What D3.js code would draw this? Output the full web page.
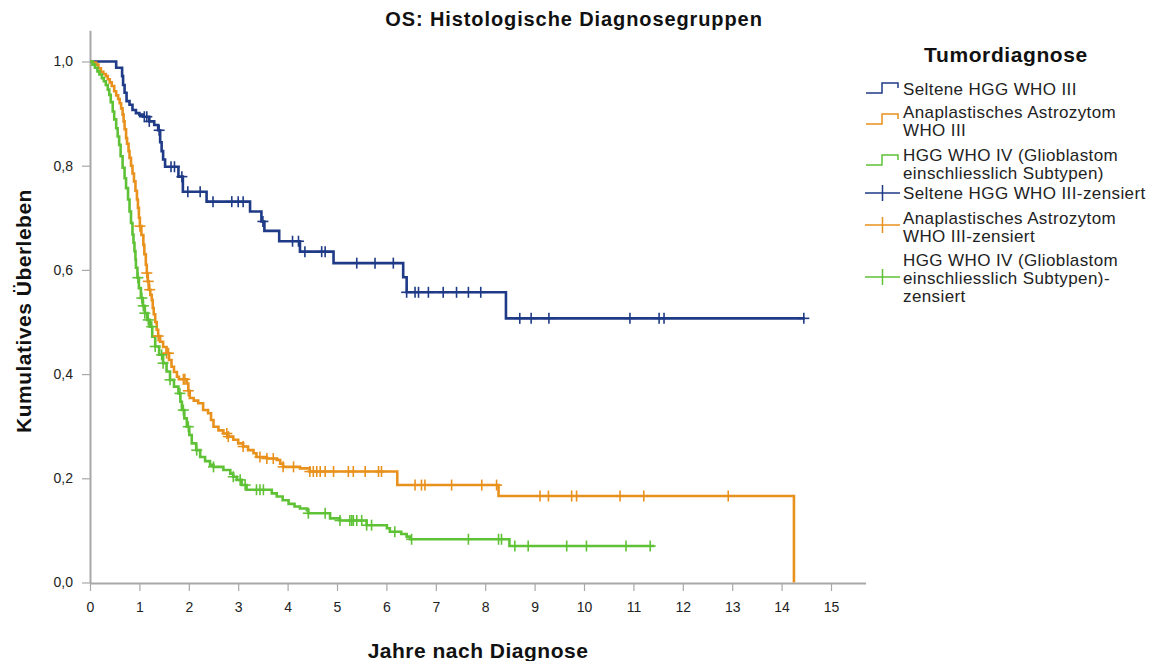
<!DOCTYPE html>
<html>
<head>
<meta charset="utf-8">
<script src="https://cdn.jsdelivr.net/npm/d3@7"></script>
<style>
  html, body { margin: 0; padding: 0; background: #fff; }
  svg { display: block; font-family: "Liberation Sans", Arial, sans-serif; }
</style>
</head>
<body>
<svg id="chart" width="1157" height="661"></svg>
<script>
// Kaplan-Meier steps: [years, cumulative survival from that time on]
const seltenSteps = [
  [0, 1.0], [0.53, 0.988], [0.65, 0.972], [0.67, 0.955], [0.70, 0.940], [0.74, 0.924],
  [0.80, 0.917], [0.86, 0.907], [0.93, 0.901], [1.00, 0.898], [1.08, 0.894], [1.20, 0.885],
  [1.30, 0.878], [1.38, 0.868], [1.42, 0.845], [1.45, 0.828], [1.48, 0.812], [1.52, 0.798],
  [1.79, 0.779], [1.88, 0.750], [2.36, 0.731], [3.24, 0.712], [3.47, 0.693], [3.53, 0.675],
  [3.83, 0.655], [4.25, 0.635], [4.93, 0.613], [6.34, 0.586], [6.41, 0.557], [8.42, 0.507]
];
const seltenEnd = 14.47;
const seltenCensored = [
  1.10, 1.15, 1.20, 1.40, 1.64, 1.71, 1.86, 1.98, 2.23, 2.49, 2.87, 3.00, 3.10, 3.50,
  4.10, 4.22, 4.35, 4.69, 4.76, 5.40, 5.77, 6.14, 6.41, 6.58, 6.65, 6.85, 7.15, 7.42,
  7.66, 7.91, 8.70, 8.93, 9.29, 10.93, 11.52, 11.62, 14.45
];

const astroSteps = [
  [0, 1.0], [0.05, 0.998], [0.12, 0.994], [0.17, 0.987], [0.22, 0.980], [0.27, 0.976],
  [0.32, 0.972], [0.36, 0.966], [0.40, 0.960], [0.44, 0.953], [0.49, 0.943], [0.53, 0.935],
  [0.57, 0.928], [0.60, 0.920], [0.63, 0.910], [0.66, 0.898], [0.68, 0.885], [0.70, 0.870],
  [0.73, 0.853], [0.75, 0.842], [0.78, 0.828], [0.80, 0.815], [0.83, 0.800], [0.86, 0.785],
  [0.89, 0.770], [0.92, 0.752], [0.95, 0.735], [0.97, 0.719], [0.99, 0.700], [1.01, 0.684],
  [1.04, 0.667], [1.08, 0.648], [1.10, 0.630], [1.13, 0.610], [1.15, 0.594], [1.17, 0.578],
  [1.19, 0.562], [1.22, 0.552], [1.25, 0.542], [1.27, 0.527], [1.29, 0.515], [1.32, 0.500],
  [1.35, 0.485], [1.38, 0.473], [1.42, 0.462], [1.48, 0.452], [1.55, 0.440], [1.60, 0.427],
  [1.65, 0.414], [1.70, 0.404], [1.76, 0.395], [1.80, 0.390], [1.96, 0.382], [1.99, 0.368],
  [2.02, 0.354], [2.10, 0.349], [2.19, 0.344], [2.29, 0.331], [2.39, 0.325], [2.45, 0.312],
  [2.50, 0.299], [2.60, 0.292], [2.70, 0.286], [2.80, 0.280], [2.90, 0.274], [3.00, 0.267],
  [3.10, 0.261], [3.20, 0.254], [3.31, 0.248], [3.37, 0.241], [3.58, 0.238], [3.78, 0.235],
  [3.85, 0.228], [3.91, 0.222], [4.25, 0.219], [4.45, 0.213], [6.22, 0.187], [8.27, 0.166],
  [14.25, 0.0]
];
const astroEnd = 14.25;
const astroCensored = [
  1.01, 1.15, 1.18, 1.21, 1.38, 1.55, 1.59, 1.89, 1.92, 1.99, 2.77, 2.80, 3.10, 3.44,
  3.58, 3.71, 3.91, 4.12, 4.45, 4.52, 4.59, 4.66, 4.76, 4.93, 5.23, 5.33, 5.57, 5.84,
  5.90, 6.58, 6.71, 6.78, 7.32, 7.93, 8.23, 9.11, 9.28, 9.75, 9.85, 10.73, 11.21, 12.92
];

const gbmSteps = [
  [0, 1.0], [0.05, 0.994], [0.10, 0.988], [0.15, 0.981], [0.19, 0.975], [0.24, 0.968],
  [0.28, 0.962], [0.32, 0.955], [0.36, 0.946], [0.39, 0.936], [0.42, 0.922], [0.46, 0.904],
  [0.49, 0.889], [0.53, 0.872], [0.56, 0.856], [0.59, 0.840], [0.62, 0.818], [0.66, 0.796],
  [0.70, 0.776], [0.73, 0.757], [0.77, 0.735], [0.80, 0.712], [0.83, 0.690], [0.86, 0.668],
  [0.88, 0.652], [0.90, 0.636], [0.92, 0.620], [0.93, 0.604], [0.96, 0.585], [0.99, 0.565],
  [1.03, 0.546], [1.07, 0.531], [1.11, 0.517], [1.16, 0.504], [1.21, 0.491], [1.26, 0.472],
  [1.32, 0.453], [1.40, 0.437], [1.48, 0.421], [1.55, 0.405], [1.62, 0.389], [1.70, 0.376],
  [1.79, 0.363], [1.83, 0.347], [1.86, 0.331], [1.91, 0.315], [1.96, 0.299], [2.01, 0.283],
  [2.06, 0.267], [2.15, 0.254], [2.23, 0.241], [2.33, 0.233], [2.43, 0.226], [2.50, 0.222],
  [2.70, 0.216], [2.84, 0.209], [2.90, 0.203], [2.97, 0.197], [3.07, 0.187], [3.17, 0.178],
  [3.68, 0.171], [3.78, 0.165], [3.90, 0.158], [4.02, 0.151], [4.14, 0.146], [4.25, 0.142],
  [4.39, 0.139], [4.42, 0.133], [4.86, 0.123], [5.06, 0.119], [5.60, 0.110], [6.01, 0.104],
  [6.07, 0.0975], [6.30, 0.093], [6.41, 0.088], [6.48, 0.083], [8.49, 0.070]
];
const gbmEnd = 11.42;
const gbmCensored = [
  0.97, 1.05, 1.08, 1.11, 1.18, 1.25, 1.32, 1.45, 1.48, 1.62, 1.82, 1.89, 1.99, 2.16,
  2.50, 2.90, 3.04, 3.14, 3.37, 3.44, 3.51, 4.42, 4.76, 5.06, 5.26, 5.30, 5.33, 5.40,
  5.50, 5.60, 5.70, 6.17, 6.51, 7.66, 8.27, 8.33, 8.60, 8.87, 9.65, 10.05, 10.85, 11.34
];

const xTicks = d3.range(0, 16);
const yTicks = [0, 0.2, 0.4, 0.6, 0.8, 1.0];

const groups = [
  { steps: seltenSteps, end: seltenEnd, censored: seltenCensored, color: "#1f3b87" },
  { steps: astroSteps, end: astroEnd, censored: astroCensored, color: "#e8911c" },
  { steps: gbmSteps, end: gbmEnd, censored: gbmCensored, color: "#5fc236" }
];

const legendItems = [
  { type: "line", color: "#1f3b87", lines: ["Seltene HGG WHO III"] },
  { type: "line", color: "#e8911c", lines: ["Anaplastisches Astrozytom", "WHO III"] },
  { type: "line", color: "#5fc236", lines: ["HGG WHO IV (Glioblastom", "einschliesslich Subtypen)"] },
  { type: "cross", color: "#1f3b87", lines: ["Seltene HGG WHO III-zensiert"] },
  { type: "cross", color: "#e8911c", lines: ["Anaplastisches Astrozytom", "WHO III-zensiert"] },
  { type: "cross", color: "#5fc236", lines: ["HGG WHO IV (Glioblastom", "einschliesslich Subtypen)-", "zensiert"] }
];

const svg = d3.select("#chart");

const x = d3.scaleLinear().domain([0, 15.7]).range([90, 90 + 15.7 * 49.4]);
const y = d3.scaleLinear().domain([0, 1.06]).range([582.5, 582.5 - 1.06 * 521]);

// Axes
const axisColor = "#a8a8a8";
const gx = svg.append("g").attr("transform", "translate(0,583)")
  .call(d3.axisBottom(x).tickValues(xTicks).tickFormat(d3.format("d")).tickSize(8).tickSizeOuter(0).tickPadding(11));
const gy = svg.append("g").attr("transform", "translate(90,0)")
  .call(d3.axisLeft(y).tickValues(yTicks).tickFormat(d => d3.format(".1f")(d).replace(".", ",")).tickSize(8).tickSizeOuter(0).tickPadding(9));
[gx, gy].forEach(g => {
  g.select(".domain").attr("stroke", axisColor).attr("stroke-width", 2);
  g.selectAll(".tick line").attr("stroke", axisColor).attr("stroke-width", 1.2);
  g.selectAll(".tick text").attr("fill", "#222").attr("font-size", 14)
    .attr("font-family", "'Liberation Sans', Arial, sans-serif");
});

// Survival curves
const stepLine = d3.line().x(d => x(d[0])).y(d => y(d[1])).curve(d3.curveStepAfter);
function survivalAt(steps, t) {
  let s = steps[0][1];
  for (const p of steps) { if (p[0] <= t) s = p[1]; else break; }
  return s;
}

groups.forEach(g => {
  const last = g.steps[g.steps.length - 1];
  const pts = g.steps.slice();
  if (g.end > last[0]) pts.push([g.end, last[1]]);
  svg.append("path")
    .attr("d", stepLine(pts))
    .attr("fill", "none")
    .attr("stroke", g.color)
    .attr("stroke-width", 2.6)
    .attr("stroke-linejoin", "miter");
});

groups.forEach(g => {
  const marks = svg.append("g").attr("stroke", g.color).attr("stroke-width", 1.6);
  g.censored.forEach(t => {
    const cx = x(t), cy = y(survivalAt(g.steps, t));
    marks.append("line").attr("x1", cx).attr("x2", cx).attr("y1", cy - 5.5).attr("y2", cy + 5.5);
    marks.append("line").attr("x1", cx - 5.5).attr("x2", cx + 5.5).attr("y1", cy).attr("y2", cy);
  });
});

// Titles
svg.append("text").attr("x", 574).attr("y", 26).attr("text-anchor", "middle")
  .attr("font-size", 20).attr("font-weight", "bold").attr("letter-spacing", 0.9).attr("fill", "#111")
  .text("OS: Histologische Diagnosegruppen");
svg.append("text").attr("x", 478).attr("y", 658).attr("text-anchor", "middle")
  .attr("font-size", 21).attr("font-weight", "bold").attr("letter-spacing", 0.5).attr("fill", "#111")
  .text("Jahre nach Diagnose");
svg.append("text").attr("transform", "translate(31,311) rotate(-90)").attr("text-anchor", "middle")
  .attr("font-size", 21).attr("font-weight", "bold").attr("letter-spacing", 0.5).attr("fill", "#111")
  .text("Kumulatives Überleben");

// Legend
const legend = svg.append("g");
legend.append("text").attr("x", 1006).attr("y", 62).attr("text-anchor", "middle")
  .attr("font-size", 21).attr("font-weight", "bold").attr("letter-spacing", 0.6).attr("fill", "#111").text("Tumordiagnose");

const entryBaselines = [95, 118, 161, 199, 224, 266];
const symbolCenters = [88, 119, 160, 193, 225, 277];
legendItems.forEach((item, i) => {
  const b = entryBaselines[i];
  item.lines.forEach((ln, j) => {
    legend.append("text").attr("x", 903).attr("y", b + j * 18)
      .attr("font-size", 17).attr("letter-spacing", 0.4).attr("fill", "#222").text(ln);
  });
  const c = symbolCenters[i];
  if (item.type === "line") {
    legend.append("path")
      .attr("d", `M866,${c + 5}H882V${c - 5}H898V${c}`)
      .attr("fill", "none").attr("stroke", item.color).attr("stroke-width", 1.5);
  } else {
    legend.append("path")
      .attr("d", `M865,${c}H900M882.5,${c - 8}V${c + 8}`)
      .attr("fill", "none").attr("stroke", item.color).attr("stroke-width", 1.5);
  }
});
</script>
</body>
</html>
